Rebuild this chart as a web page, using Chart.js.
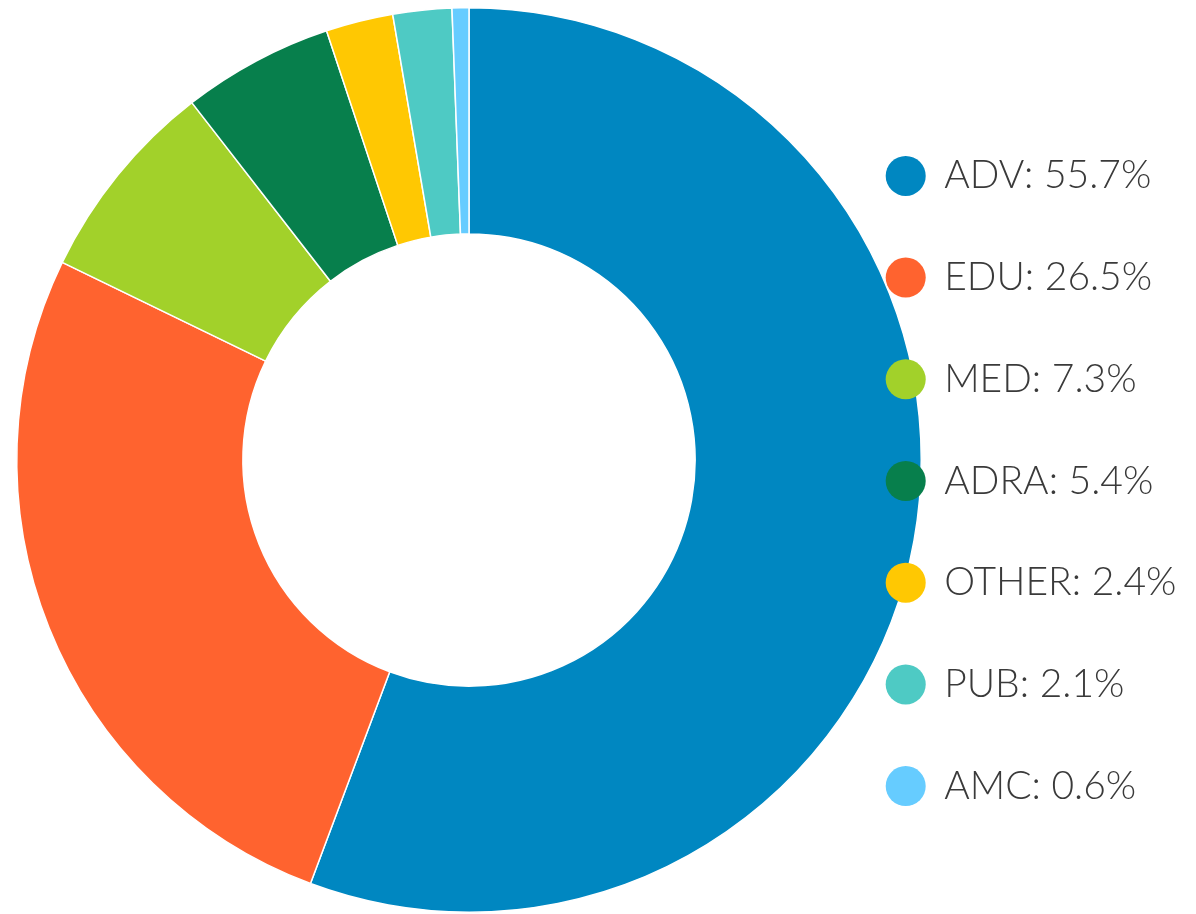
<!DOCTYPE html>
<html>
<head>
<meta charset="utf-8">
<script src="https://cdn.jsdelivr.net/npm/chart.js@4/dist/chart.umd.min.js"></script>
<style>
  html, body { margin: 0; padding: 0; background: #ffffff; }
  #wrap { position: relative; width: 1196px; height: 914px; }
</style>
</head>
<body>
<div id="wrap"><canvas id="c"></canvas></div>
<script>
const categories = ['ADV', 'EDU', 'MED', 'ADRA', 'OTHER', 'PUB', 'AMC'];
const shares = [55.7, 26.5, 7.3, 5.4, 2.4, 2.1, 0.6];
const sliceColors = ['#0087C1', '#FF632F', '#A2D12A', '#077F4C', '#FFC802', '#4ECAC4', '#66CCFF'];

const FONT_SIZE = 39;
const LEGEND_SHIFT_X = -114;
const LEGEND_SHIFT_Y = 21;

const legendPlacement = {
  id: 'legendPlacement',
  afterInit(chart) {
    const lg = chart.legend;
    if (lg) {
      lg._layers = function () {
        return [{ z: 1, draw(area) { lg.draw(area); } }];
      };
    }
  },
  afterLayout(chart) {
    const lg = chart.legend;
    if (!lg) return;
    lg.left += LEGEND_SHIFT_X;
    lg.right = chart.width;
    lg.top += LEGEND_SHIFT_Y;
    lg.bottom += LEGEND_SHIFT_Y;
  }
};

new Chart(document.getElementById('c'), {
  type: 'doughnut',
  data: {
    labels: categories,
    datasets: [{
      data: shares,
      backgroundColor: sliceColors,
      borderColor: '#ffffff',
      borderWidth: 1.5,
      hoverOffset: 0
    }]
  },
  options: {
    responsive: true,
    maintainAspectRatio: false,
    animation: false,
    cutout: '50%',
    layout: { padding: { left: 0, right: 0, top: 7, bottom: 1 } },
    plugins: {
      tooltip: { enabled: false },
      legend: {
        position: 'right',
        maxWidth: 258,
        labels: {
          usePointStyle: true,
          pointStyle: 'circle',
          boxWidth: 38,
          boxHeight: 28.3,
          padding: 62.7,
          color: '#3a3a3a',
          font: { family: 'Lato', size: FONT_SIZE, weight: '300' },
          generateLabels(chart) {
            const ds = chart.data.datasets[0];
            return chart.data.labels.map((lab, i) => ({
              text: lab + ': ' + ds.data[i] + '%',
              fillStyle: ds.backgroundColor[i],
              strokeStyle: ds.backgroundColor[i],
              fontColor: '#3a3a3a',
              lineWidth: 0,
              pointStyle: 'circle',
              hidden: false,
              index: i
            }));
          }
        }
      }
    }
  },
  plugins: [legendPlacement]
});
</script>
</body>
</html>
